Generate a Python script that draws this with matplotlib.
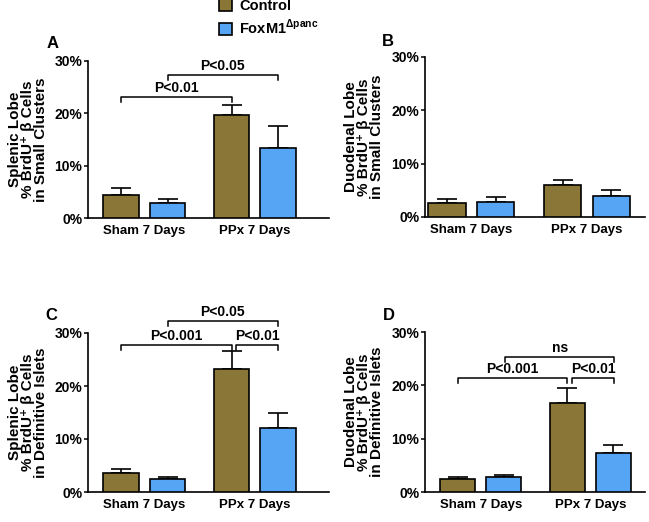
import matplotlib
matplotlib.use("Agg")
import matplotlib.pyplot as plt
from matplotlib.patches import Patch
import numpy as np

plt.rcParams['font.family'] = ['Liberation Sans', 'DejaVu Sans']
plt.rcParams['font.weight'] = 'bold'
plt.rcParams['mathtext.fontset'] = 'custom'
plt.rcParams['mathtext.rm'] = 'Liberation Sans'
plt.rcParams['mathtext.bf'] = 'Liberation Sans:bold'

groups = ['Sham 7 Days', 'PPx 7 Days']
series = ['Control', r'FoxM1$^{\mathrm{\Delta panc}}$']
colors = ['#8a7738', '#55a5f4']

# means and SEM (upper error only), in percent
a_ctrl = [4.4, 19.7]
a_ctrl_err = [1.3, 1.9]
a_fox = [2.9, 13.4]
a_fox_err = [0.7, 4.2]

b_ctrl = [2.6, 6.0]
b_ctrl_err = [0.7, 0.9]
b_fox = [2.8, 4.0]
b_fox_err = [0.9, 1.1]

c_ctrl = [3.6, 23.3]
c_ctrl_err = [0.7, 3.3]
c_fox = [2.5, 12.1]
c_fox_err = [0.4, 2.9]

d_ctrl = [2.5, 16.7]
d_ctrl_err = [0.4, 2.8]
d_fox = [2.9, 7.3]
d_fox_err = [0.3, 1.6]

ylabels = [
    'Splenic Lobe\n% BrdU\u207a \u03b2 Cells\nin Small Clusters',
    'Duodenal Lobe\n% BrdU\u207a \u03b2 Cells\nin Small Clusters',
    'Splenic Lobe\n% BrdU\u207a \u03b2 Cells\nin Definitive Islets',
    'Duodenal Lobe\n% BrdU\u207a \u03b2 Cells\nin Definitive Islets',
]

# brackets: (x1, x2, y, label)
a_brackets = [(-0.21, 0.79, 23.1, 'P<0.01'), (0.21, 1.21, 27.3, 'P<0.05')]
b_brackets = []
c_brackets = [(-0.21, 0.79, 27.7, 'P<0.001'), (0.83, 1.21, 27.7, 'P<0.01'),
              (0.21, 1.21, 32.3, 'P<0.05')]
d_brackets = [(-0.21, 0.79, 21.4, 'P<0.001'), (0.83, 1.22, 21.4, 'P<0.01'),
              (0.22, 1.22, 25.3, 'ns')]

W, H = 649, 522
fig = plt.figure(figsize=(W / 100, H / 100), dpi=100)


def px_axes(left, right, top, bottom):
    return fig.add_axes([left / W, 1 - bottom / H, (right - left) / W, (bottom - top) / H])


panels = [
    (px_axes(88, 329, 61, 218), a_ctrl, a_ctrl_err, a_fox, a_fox_err, a_brackets, (-0.51, 1.67), 'A', (47, 43), 0),
    (px_axes(425, 645, 57, 217), b_ctrl, b_ctrl_err, b_fox, b_fox_err, b_brackets, (-0.40, 1.50), 'B', (382, 41), 1),
    (px_axes(88, 329, 333, 492), c_ctrl, c_ctrl_err, c_fox, c_fox_err, c_brackets, (-0.51, 1.67), 'C', (45, 316), 2),
    (px_axes(425, 645, 332, 492), d_ctrl, d_ctrl_err, d_fox, d_fox_err, d_brackets, (-0.51, 1.50), 'D', (383, 315), 3),
]

x = np.arange(len(groups))
bw = 0.32
off = 0.21

for ax, ctrl, ctrl_err, fox, fox_err, brackets, xlim, letter, lpos, i in panels:
    for vals, errs, sign, col in [(ctrl, ctrl_err, -1, colors[0]), (fox, fox_err, 1, colors[1])]:
        xs = x + sign * off
        ax.bar(xs, vals, width=bw, color=col, edgecolor='black', linewidth=1.2, zorder=3)
        ax.errorbar(xs, vals, yerr=[np.zeros(len(errs)), errs], fmt='none',
                    ecolor='black', elinewidth=1.2, capsize=7, capthick=1.2, zorder=2)
    ax.set_ylim(0, 30)
    ax.set_xlim(*xlim)
    ax.set_yticks([0, 10, 20, 30])
    ax.set_yticklabels(['0%', '10%', '20%', '30%'], fontsize=10, fontweight='bold')
    ax.set_xticks(x)
    ax.set_xticklabels(groups, fontsize=9.5, fontweight='bold')
    ax.tick_params(axis='x', length=0, pad=5)
    ax.tick_params(axis='y', length=3, width=1.1, pad=1)
    for s in ['top', 'right']:
        ax.spines[s].set_visible(False)
    for s in ['left', 'bottom']:
        ax.spines[s].set_linewidth(1.2)

    for x1, x2, y, lab in brackets:
        ax.plot([x1, x1, x2, x2], [y - 1.0, y, y, y - 1.0], color='black', lw=1.1, clip_on=False)
        ax.text((x1 + x2) / 2, y + 0.4, lab, ha='center', va='bottom', fontsize=10,
                fontweight='bold', clip_on=False)

    fig.text(lpos[0] / W, 1 - lpos[1] / H, letter, fontsize=12, fontweight='bold',
             ha='left', va='center')

    # multi-line y label
    bbox = ax.get_position()
    yc = bbox.y0 + bbox.height / 2
    lx = 28 if i % 2 == 0 else 364
    fig.text(lx / W, yc, ylabels[i], rotation=90, ha='center', va='center',
             multialignment='center', fontsize=11, fontweight='bold', linespacing=0.95)

handles = [Patch(facecolor=colors[0], edgecolor='black', linewidth=1.2),
           Patch(facecolor=colors[1], edgecolor='black', linewidth=1.2)]
fig.legend(handles, series, loc='upper left', bbox_to_anchor=(213 / W, 1 + 7 / H),
           frameon=False, fontsize=10.5, handlelength=0.9, handleheight=0.9,
           handletextpad=0.5, labelspacing=0.3, borderaxespad=0)

fig.savefig('out.png', dpi=100)
